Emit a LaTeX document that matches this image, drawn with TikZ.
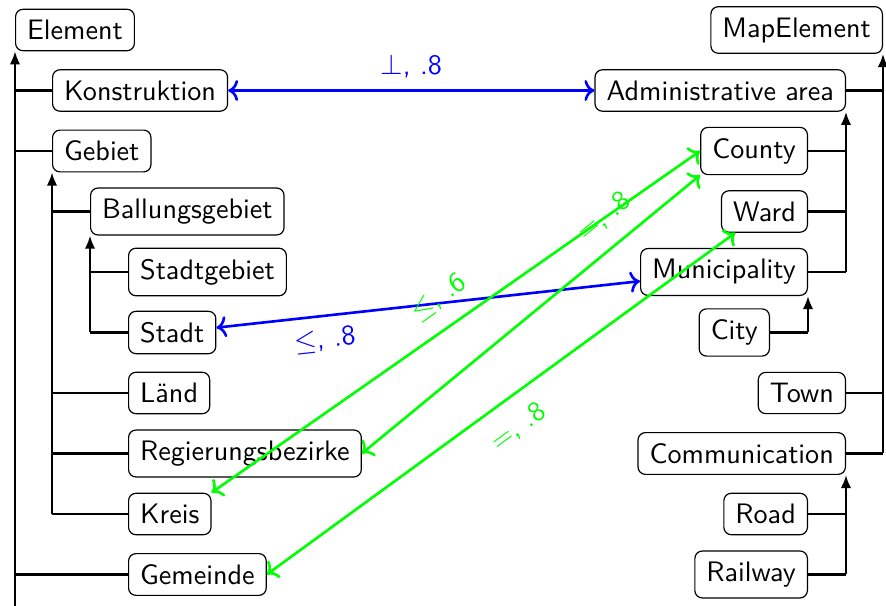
\documentclass[tikz,border=0pt]{standalone}
\usetikzlibrary{arrows.meta}
\begin{document}
\begin{tikzpicture}[x=0.38pt,y=-0.38pt,
  font=\fontsize{10.7pt}{13pt}\selectfont\sffamily,
  box/.style={draw, rounded corners=2.8pt, inner xsep=4.4pt, inner ysep=4.1pt, line width=0.45pt},
  lbox/.style={box, anchor=west},
  rbox/.style={box, anchor=east},
  tree/.style={line width=0.9pt},
  treearrow/.style={tree, -{Latex[length=5pt,width=4pt]}},
  bluelink/.style={draw=blue, line width=1pt, <->},
  greenlink/.style={draw=green, line width=1pt, <->},
  bluelabel/.style={text=blue, sloped},
  greenlabel/.style={text=green, sloped}]
\useasboundingbox (0,0) rectangle (886,606);
% left column
\node[lbox] (element) at (15,30) {Element};
\node[lbox] (konstruktion) at (52,90.5) {Konstruktion};
\node[lbox] (gebiet) at (52,151) {Gebiet};
\node[lbox] (ballungsgebiet) at (90,211.5) {Ballungsgebiet};
\node[lbox] (stadtgebiet) at (128,272) {Stadtgebiet};
\node[lbox] (stadt) at (128,332.5) {Stadt};
\node[lbox] (laend) at (128,393) {Länd};
\node[lbox] (regbez) at (128,453.5) {Regierungsbezirke};
\node[lbox] (kreis) at (128,514) {Kreis};
\node[lbox] (gemeinde) at (128,574.5) {Gemeinde};
% right column
\node[rbox] (mapelement) at (883,30) {MapElement};
\node[rbox] (admin) at (846,90.5) {Administrative area};
\node[rbox] (county) at (808,151) {County};
\node[rbox] (ward) at (808,211.5) {Ward};
\node[rbox] (municipality) at (808,272) {Municipality};
\node[rbox] (city) at (770,332.5) {City};
\node[rbox] (town) at (846,393) {Town};
\node[rbox] (communication) at (846,453.5) {Communication};
\node[rbox] (road) at (808,514) {Road};
\node[rbox] (railway) at (808,574.5) {Railway};
% left trees
\coordinate (lend) at (15,606);
\draw[treearrow] (lend) -- (element.south west);
\foreach \n in {konstruktion,gebiet,gemeinde}
  \draw[tree] (\n.west) -- (\n.west -| element.south west);
\draw[treearrow] (kreis.west -| gebiet.south west) -- (gebiet.south west);
\foreach \n in {ballungsgebiet,laend,regbez,kreis}
  \draw[tree] (\n.west) -- (\n.west -| gebiet.south west);
\draw[treearrow] (stadt.west -| ballungsgebiet.south west) -- (ballungsgebiet.south west);
\foreach \n in {stadtgebiet,stadt}
  \draw[tree] (\n.west) -- (\n.west -| ballungsgebiet.south west);
% right trees
\draw[treearrow] (communication.east -| mapelement.south east) -- (mapelement.south east);
\foreach \n in {admin,town,communication}
  \draw[tree] (\n.east) -- (\n.east -| mapelement.south east);
\draw[treearrow] (municipality.east -| admin.south east) -- (admin.south east);
\foreach \n in {county,ward,municipality}
  \draw[tree] (\n.east) -- (\n.east -| admin.south east);
\draw[treearrow] (city.east -| municipality.south east) -- (municipality.south east);
\draw[tree] (city.east) -- (city.east -| municipality.south east);
\draw[treearrow] (railway.east -| communication.south east) -- (communication.south east);
\foreach \n in {road,railway}
  \draw[tree] (\n.east) -- (\n.east -| communication.south east);
% blue links
\draw[bluelink] (konstruktion.east) -- node[bluelabel, above=1pt] {$\perp$, .8} (admin.west);
\draw[bluelink] (stadt) -- node[bluelabel, pos=0.25, below=1pt] {$\leq$, .8} (municipality);
% green links
\draw[greenlink] (kreis.north east) -- node[greenlabel, pos=0.5, above=3pt] {$\leq$, .6} (county.west);
\draw[greenlink] (regbez.east) -- node[greenlabel, pos=0.77, above=3pt] {=, .8} (county.south west);
\draw[greenlink] (gemeinde.east) -- node[greenlabel, pos=0.5, below=3pt] {=, .8} (ward);
\end{tikzpicture}
\end{document}
